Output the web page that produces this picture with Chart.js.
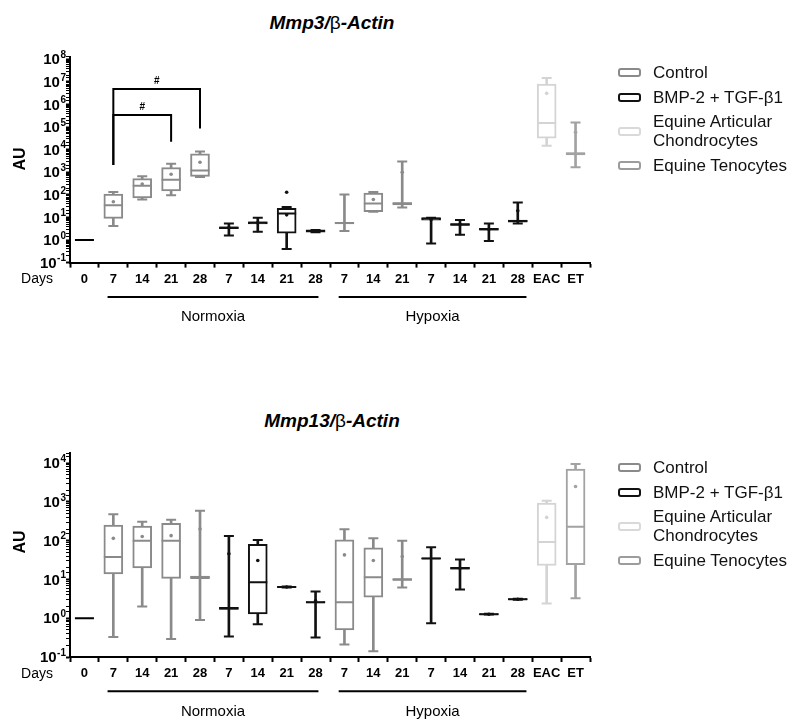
<!DOCTYPE html>
<html>
<head>
<meta charset="utf-8">
<script src="https://cdn.jsdelivr.net/npm/chart.js@4.4.1/dist/chart.umd.min.js"></script>
<style>
  body { margin: 0; background: #fff; font-family: 'Liberation Sans', Arial, sans-serif; }
  #wrap { position: relative; width: 792px; height: 720px; overflow: hidden; }
  canvas { position: absolute; left: 0; }
  .title { position: absolute; left: 232px; width: 200px; text-align: center; font-size: 19px; line-height: 22px; white-space: nowrap; }
  .title b { font-style: italic; }
  .title span { font-weight: normal; }
  .legend { position: absolute; left: 618px; font-size: 17px; line-height: 19.3px; color: #111; }
  .legend .item { display: flex; align-items: center; margin-bottom: 5.3px; }
  .legend .box { width: 19px; height: 5px; border: 2px solid; border-radius: 3px; margin-right: 12px; flex: none; }
</style>
</head>
<body>
<div id="wrap">
  <div class="title" style="top:12px"><b>Mmp3/</b><span>β</span><b>-Actin</b></div>
  <canvas id="mmp3" width="792" height="360" style="top:0"></canvas>
  <div class="legend" id="legend3" style="top:63px"></div>

  <div class="title" style="top:410px"><b>Mmp13/</b><span>β</span><b>-Actin</b></div>
  <canvas id="mmp13" width="792" height="350" style="top:370px"></canvas>
  <div class="legend" id="legend13" style="top:458px"></div>
</div>
<script>
const FONT = "'Liberation Sans', Arial, sans-serif";

// categories
const dayLabels = ['0', '7', '14', '21', '28', '7', '14', '21', '28', '7', '14', '21', '7', '14', '21', '28', 'EAC', 'ET'];
const groupOf = ['day0', 'ctrl', 'ctrl', 'ctrl', 'ctrl', 'bmp', 'bmp', 'bmp', 'bmp', 'ctrl', 'ctrl', 'ctrl', 'bmp', 'bmp', 'bmp', 'bmp', 'eac', 'et'];
const groupColor = { day0: '#000000', ctrl: '#8a8a8a', bmp: '#111111', eac: '#d4d4d4', et: '#a2a2a2' };

const legendLabels = ['Control', 'BMP-2 + TGF-β1', 'Equine Articular<br>Chondrocytes', 'Equine Tenocytes'];
const legendColors = ['#8a8a8a', '#111111', '#d9d9d9', '#9c9c9c'];

// Mmp3 / beta-Actin (AU)
const mmp3Min    = [1, 4.2, 62, 96, 615, 1.6, 2.3, 0.4, 2.2, 2.5, 18, 27.5, 0.7, 1.7, 0.9, 5.4, 1.5e4, 1650];
const mmp3Q1     = [1, 9, 73, 148, 660, 3.2, 5.2, 2, 2.2, 5.1, 18, 36, 7.6, 4.4, 2.7, 6.2, 3.2e4, 5800];
const mmp3Median = [1, 35, 250, 470, 1200, 3.5, 5.8, 15, 2.5, 5.6, 41, 41, 9, 4.9, 3.0, 7, 1.5e5, 6600];
const mmp3Q3     = [1, 107, 525, 1590, 6600, 3.8, 6.4, 25, 2.8, 6.1, 120, 45, 9.5, 5.4, 3.3, 7.6, 8e6, 7400];
const mmp3Max    = [1, 134, 660, 2400, 8300, 5.4, 9.6, 29, 2.8, 103, 134, 3000, 9.7, 7.6, 5.4, 46, 1.5e7, 1.6e5];
const mmp3Mean   = [null, 49, 300, 810, 2750, 3.5, 5.8, 13, 2.5, null, 62, 1000, 8, 4.9, 3.0, 19.5, 3.1e6, 5.9e4];
const mmp3Outlier = [null, null, null, null, null, null, null, 130, null, null, null, null, null, null, null, null, null, null];
const mmp3TickExps = [-1, 0, 1, 2, 3, 4, 5, 6, 7, 8];
// significance brackets (# p < 0.05), category index and AU values
const mmp3Brackets = [
  { from: 1, to: 4, top: 4.8e6, leftEnd: 2100, rightEnd: 8.7e4 },
  { from: 1, to: 3, top: 3.4e5, leftEnd: 2100, rightEnd: 2.24e4 }
];

// Mmp13 / beta-Actin (AU)
const mmp13Min    = [1, 0.33, 2.0, 0.29, 0.9, 0.34, 0.7, 6.2, 0.32, 0.21, 0.14, 6.2, 0.74, 5.5, 1.24, 3.0, 2.4, 3.3];
const mmp13Q1     = [1, 14, 20, 10.7, 10.5, 1.7, 1.3, 6.2, 2.5, 0.5, 3.5, 9.5, 34, 18.5, 1.24, 3.0, 23, 24];
const mmp13Median = [1, 38, 100, 100, 11.4, 1.8, 8.5, 6.4, 2.6, 2.6, 11.4, 10, 35, 19.5, 1.27, 3.1, 93, 230];
const mmp13Q3     = [1, 255, 240, 280, 12.3, 1.9, 81, 6.6, 2.7, 105, 66, 10.5, 36, 20.5, 1.31, 3.2, 930, 7100];
const mmp13Max    = [1, 480, 310, 345, 590, 133, 105, 6.6, 4.9, 198, 116, 100, 68, 33, 1.31, 3.2, 1070, 9500];
const mmp13Mean   = [null, 115, 128, 135, 200, 46, 31, 6.4, 2.8, 43, 31, 39, null, 19.5, 1.27, 3.1, 400, 2500];
const mmp13Outlier = dayLabels.map(() => null);
const mmp13TickExps = [-1, 0, 1, 2, 3, 4];

const groupSpans = [
  { label: 'Normoxia', from: 0.8, to: 8.1 },
  { label: 'Hypoxia', from: 8.8, to: 15.3 }
];

function buildLegend(id) {
  const el = document.getElementById(id);
  el.innerHTML = legendLabels.map((t, i) =>
    `<div class="item"><div class="box" style="border-color:${legendColors[i]}"></div><div>${t}</div></div>`).join('');
}

const extrasPlugin = {
  id: 'extras',
  afterDraw(chart, args, o) {
    const { ctx, chartArea } = chart;
    const x = chart.scales.x, y = chart.scales.y;
    ctx.save();
    ctx.fillStyle = '#000';
    ctx.strokeStyle = '#000';

    // y tick labels 10^n
    o.tickExps.forEach(e => {
      const py = y.getPixelForValue(Math.pow(10, e));
      const exp = e < 0 ? '-' + (-e) : String(e);
      const right = chartArea.left - 4;
      ctx.textBaseline = 'middle';
      ctx.textAlign = 'right';
      ctx.font = 'bold 10px ' + FONT;
      const ew = ctx.measureText(exp).width;
      ctx.fillText(exp, right, py - 4);
      ctx.font = 'bold 15px ' + FONT;
      ctx.fillText('10', right - ew - 0.5, py + 1);
    });

    // y title
    ctx.save();
    ctx.translate(21, o.auY);
    ctx.rotate(-Math.PI / 2);
    ctx.textAlign = 'center';
    ctx.textBaseline = 'middle';
    ctx.font = 'bold 16px ' + FONT;
    ctx.fillText('AU', 0, 0);
    ctx.restore();

    // Days
    ctx.textAlign = 'center';
    ctx.textBaseline = 'middle';
    ctx.font = '14px ' + FONT;
    ctx.fillText('Days', 37, chartArea.bottom + 17);

    // Normoxia / Hypoxia
    groupSpans.forEach(g => {
      const x1 = x.getPixelForValue(g.from), x2 = x.getPixelForValue(g.to);
      const ly = chartArea.bottom + 34.3;
      ctx.lineWidth = 2;
      ctx.beginPath();
      ctx.moveTo(x1, ly);
      ctx.lineTo(x2, ly);
      ctx.stroke();
      ctx.font = '15px ' + FONT;
      ctx.fillText(g.label, (x1 + x2) / 2, chartArea.bottom + 54.6);
    });

    // significance brackets
    (o.brackets || []).forEach(b => {
      const xl = x.getPixelForValue(b.from), xr = x.getPixelForValue(b.to);
      const yt = y.getPixelForValue(b.top);
      ctx.lineWidth = 2;
      ctx.beginPath();
      ctx.moveTo(xl, y.getPixelForValue(b.leftEnd));
      ctx.lineTo(xl, yt);
      ctx.lineTo(xr, yt);
      ctx.lineTo(xr, y.getPixelForValue(b.rightEnd));
      ctx.stroke();
      ctx.font = 'bold 10px ' + FONT;
      ctx.fillText('#', (xl + xr) / 2, yt - 8);
    });
    ctx.restore();
  }
};

function makeChart(id, d, yMax, pad, auY, tickExps, brackets) {
  const colors = groupOf.map(g => groupColor[g]);
  const notDay0 = (v, i) => (groupOf[i] === 'day0' ? null : v);
  const lineBase = { type: 'line', showLine: false, borderWidth: 0, pointHoverRadius: 0 };
  return new Chart(document.getElementById(id), {
    type: 'bar',
    data: {
      labels: dayLabels,
      datasets: [
        { ...lineBase, order: 0, data: d.outlier, pointStyle: 'circle', pointRadius: 1.8,
          pointBackgroundColor: colors, pointBorderWidth: 0 },
        { ...lineBase, order: 1, data: d.mean, pointStyle: 'circle', pointRadius: 1.8,
          pointBackgroundColor: colors, pointBorderWidth: 0 },
        { ...lineBase, order: 2, data: d.median, pointStyle: 'line', pointRadius: 9.5,
          pointBorderColor: colors, pointBorderWidth: 2 },
        { ...lineBase, order: 3, data: d.max.map(notDay0), pointStyle: 'line', pointRadius: 5,
          pointBorderColor: colors, pointBorderWidth: 2 },
        { ...lineBase, order: 3, data: d.min.map(notDay0), pointStyle: 'line', pointRadius: 5,
          pointBorderColor: colors, pointBorderWidth: 2 },
        { order: 4, grouped: false, barThickness: 19, borderSkipped: false, borderWidth: 2,
          data: d.q1.map((v, i) => (groupOf[i] === 'day0' ? null : [v, d.q3[i]])),
          backgroundColor: '#ffffff', borderColor: colors },
        { order: 5, grouped: false, barThickness: 2, borderWidth: 0,
          data: d.min.map((v, i) => (groupOf[i] === 'day0' ? null : [v, d.max[i]])),
          backgroundColor: colors }
      ]
    },
    options: {
      responsive: false,
      animation: false,
      events: [],
      layout: { padding: pad },
      plugins: {
        legend: { display: false },
        tooltip: { enabled: false },
        extras: { tickExps: tickExps, brackets: brackets, auY: auY }
      },
      scales: {
        x: {
          type: 'category',
          offset: true,
          afterFit: s => { s.height = 40; },
          grid: { drawOnChartArea: false, drawTicks: true, tickLength: 5, color: '#000', tickWidth: 2 },
          border: { display: true, color: '#000', width: 2 },
          ticks: { color: '#000', font: { family: FONT, size: 13, weight: 'bold' }, padding: 4,
                   maxRotation: 0, autoSkip: false }
        },
        y: {
          type: 'logarithmic',
          min: 0.1,
          max: yMax,
          afterFit: s => { s.width = 70; },
          grid: {
            drawOnChartArea: false, drawTicks: true, tickLength: 4, color: '#000',
            tickWidth: c => {
              const v = c.tick ? c.tick.value : 0;
              return Math.abs(Math.log10(v) - Math.round(Math.log10(v))) < 1e-6 ? 2 : 1;
            }
          },
          border: { display: true, color: '#000', width: 2 },
          ticks: { autoSkip: false, callback: () => '' }
        }
      }
    },
    plugins: [extrasPlugin]
  });
}

buildLegend('legend3');
buildLegend('legend13');

makeChart('mmp3',
  { min: mmp3Min, q1: mmp3Q1, median: mmp3Median, q3: mmp3Q3, max: mmp3Max, mean: mmp3Mean, outlier: mmp3Outlier },
  1.3e8, { top: 56.7, bottom: 57.4, left: 0, right: 202 }, 159, mmp3TickExps, mmp3Brackets);

makeChart('mmp13',
  { min: mmp13Min, q1: mmp13Q1, median: mmp13Median, q3: mmp13Q3, max: mmp13Max, mean: mmp13Mean, outlier: mmp13Outlier },
  1.8e4, { top: 83.3, bottom: 23, left: 0, right: 202 }, 172, mmp13TickExps, []);
</script>
</body>
</html>
